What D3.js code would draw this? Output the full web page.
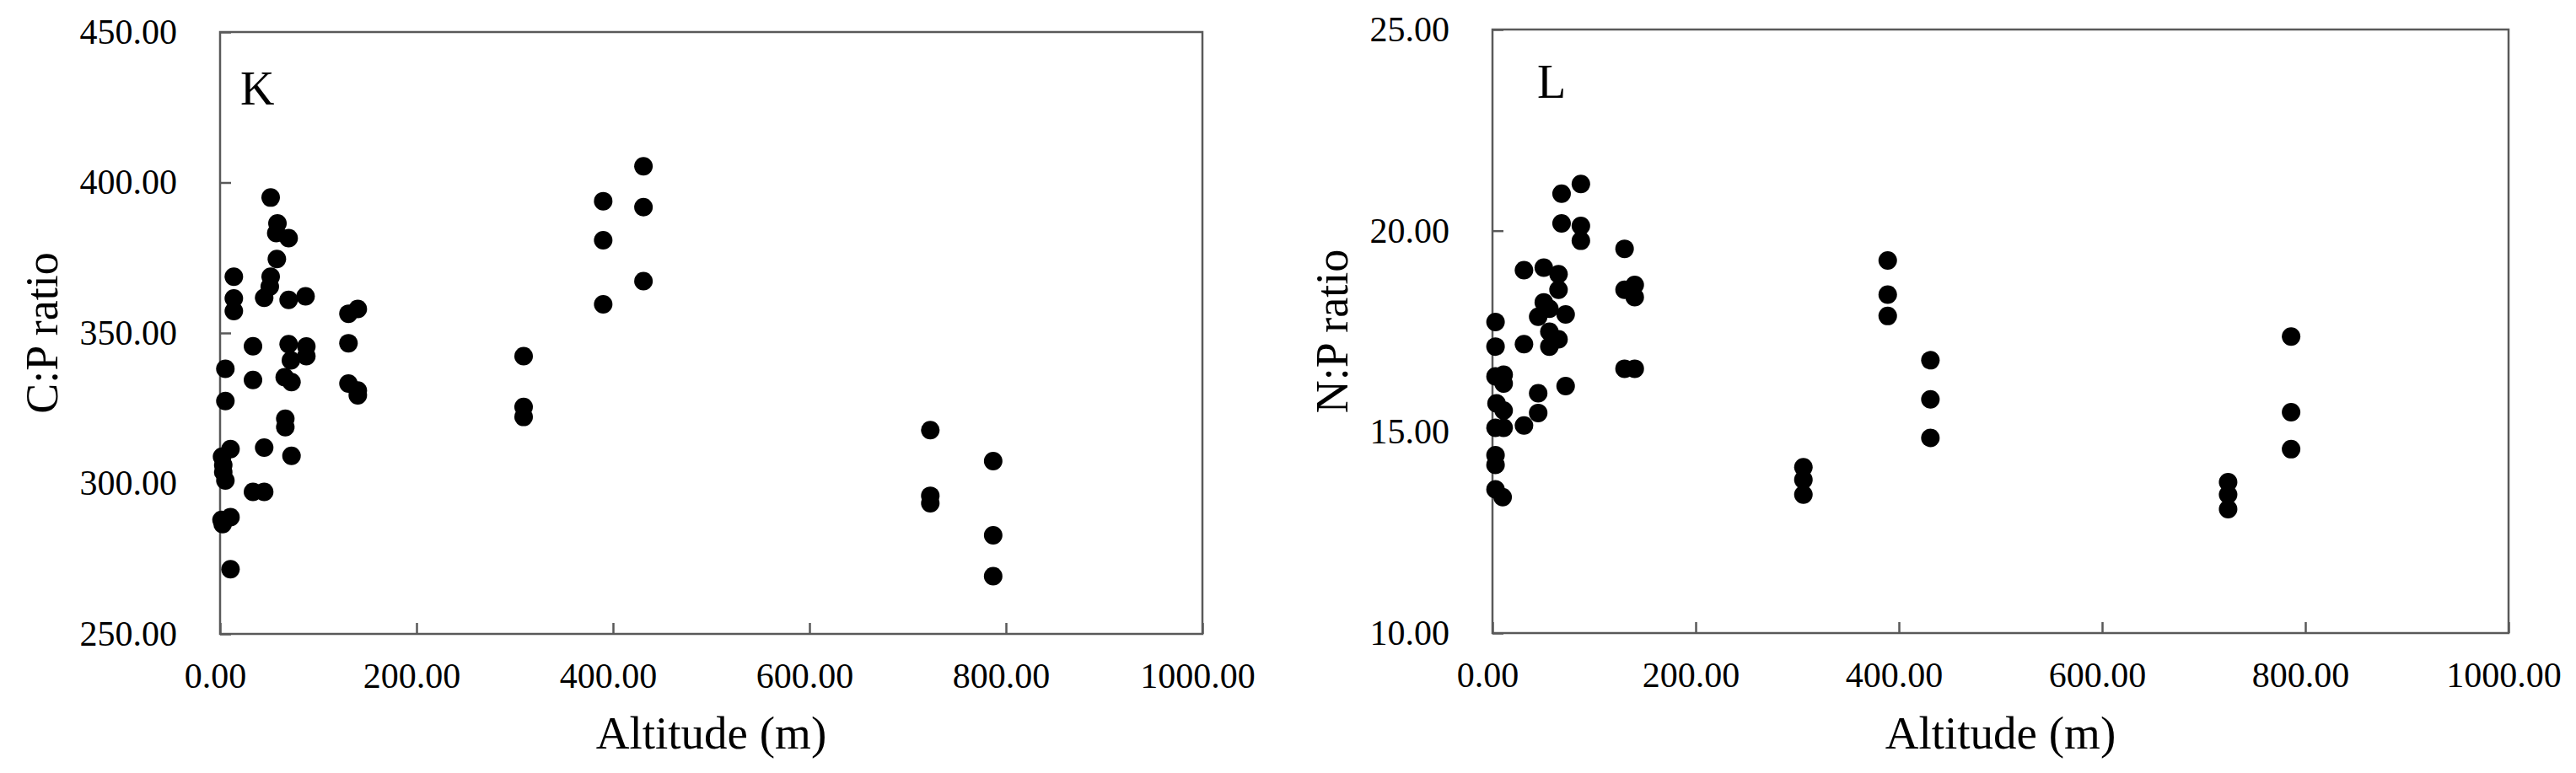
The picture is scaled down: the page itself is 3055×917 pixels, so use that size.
<!DOCTYPE html>
<html>
<head>
<meta charset="utf-8">
<script src="https://cdn.jsdelivr.net/npm/d3@7"></script>
<style>
body { margin: 0; background: #fff; }
svg { display: block; font-family: "Liberation Serif", "Times New Roman", serif; }
</style>
</head>
<body>
<svg width="3055" height="917"></svg>
<script>
// panel K: altitude (m) vs C:P ratio
const altitudeK = [51.5, 58.4, 57.2, 69.8, 57.8, 51.5, 50.6, 44.9, 69.8, 87.0, 14.0, 14.0, 14.0, 130.7, 140.2,
  130.7, 130.7, 140.2, 140.2, 33.5, 69.8, 87.8, 87.8, 72.1, 5.4, 33.5, 65.8, 72.7, 5.4, 66.4, 66.4, 44.9, 72.7,
  10.6, 2.0, 3.2, 3.2, 5.4, 33.5, 44.9, 10.6, 1.5, 2.6, 10.6,
  309, 309, 309, 390, 390, 390, 431, 431, 431, 723, 723, 723, 787, 787, 787];
const cpRatio = [395.0, 386.4, 383.2, 381.5, 374.6, 368.7, 365.4, 361.7, 361.0, 362.2, 368.7, 361.5, 357.3, 356.4, 358.0,
  346.6, 333.2, 330.9, 329.3, 345.6, 346.3, 345.5, 342.3, 340.9, 338.1, 334.4, 335.3, 333.7, 327.4, 321.5, 318.7, 311.9, 309.2,
  311.4, 308.9, 306.1, 303.8, 301.0, 297.2, 297.2, 288.8, 287.9, 286.5, 271.5,
  342.3, 325.4, 322.1, 393.8, 380.8, 359.5, 405.4, 391.8, 367.2, 317.7, 295.9, 293.4, 307.4, 282.8, 269.2];

// panel L: altitude (m) vs N:P ratio
const altitudeL = [87, 68, 68, 87, 87, 130, 31, 50.5, 65, 65, 130, 140, 140, 50.5, 45, 56, 72, 56, 65, 56, 31,
  3, 3, 3, 11, 11, 4, 11, 11, 3, 31, 45, 45, 72, 130, 140, 3, 3, 3, 10,
  306, 306, 306, 389, 389, 389, 431, 431, 431, 724, 724, 724, 786, 786, 786];
const npRatio = [21.16, 20.92, 20.18, 20.12, 19.75, 19.55, 19.02, 19.08, 18.92, 18.53, 18.53, 18.65, 18.35, 18.22, 17.86, 18.06, 17.92, 17.49, 17.30, 17.12, 17.18,
  17.73, 17.12, 16.38, 16.42, 16.20, 15.71, 15.53, 15.10, 15.10, 15.16, 15.96, 15.47, 16.14, 16.57, 16.57, 14.42, 14.18, 13.57, 13.38,
  14.12, 13.81, 13.44, 19.26, 18.41, 17.88, 16.78, 15.81, 14.85, 13.75, 13.44, 13.08, 17.37, 15.49, 14.57];

const altTicks = [0, 200, 400, 600, 800, 1000];
const cpTicks = [250, 300, 350, 400, 450];
const npTicks = [10, 15, 20, 25];

const panels = [
  { letter: 'K', ylabel: 'C:P ratio', xs: altitudeK, ys: cpRatio, yDomain: [250, 450], yTicks: cpTicks,
    left: 261, top: 38, width: 1165, height: 714, titleX: 68, letterAt: [24, 86] },
  { letter: 'L', ylabel: 'N:P ratio', xs: altitudeL, ys: npRatio, yDomain: [10, 25], yTicks: npTicks,
    left: 1770, top: 35, width: 1205, height: 716, titleX: 1598, letterAt: [53, 81] }
];

const svg = d3.select('svg');
const frameColor = '#595959';
const fmt = d3.format('.2f');

panels.forEach(p => {
  const g = svg.append('g').attr('transform', `translate(${p.left},${p.top})`);

  const x = d3.scaleLinear().domain([0, 1000]).range([0, p.width]);
  const y = d3.scaleLinear().domain(p.yDomain).range([p.height, 0]);

  // ticks point inward, like the Excel original
  const x_ax = d3.axisBottom(x).tickValues(altTicks).tickFormat(fmt).tickSize(-13).tickPadding(34);
  const y_ax = d3.axisLeft(y).tickValues(p.yTicks).tickFormat(fmt).tickSize(-13).tickPadding(51);

  const h_x = g.append('g').attr('transform', `translate(0,${p.height})`).call(x_ax);
  const h_y = g.append('g').call(y_ax);

  [h_x, h_y].forEach(ax => {
    ax.select('.domain').remove();
    ax.selectAll('line').attr('stroke', frameColor).attr('stroke-width', 2.5);
    ax.selectAll('text').attr('fill', '#000').style('font-size', '42px')
      .style('font-family', '"Liberation Serif", "Times New Roman", serif');
  });
  h_x.selectAll('text').attr('dx', -6);

  g.append('rect')
    .attr('width', p.width).attr('height', p.height)
    .attr('fill', 'none').attr('stroke', frameColor).attr('stroke-width', 2.5);

  g.append('g').selectAll('circle')
    .data(p.xs.map((d, i) => [d, p.ys[i]]))
    .join('circle')
    .attr('cx', d => x(d[0]))
    .attr('cy', d => y(d[1]))
    .attr('r', 11)
    .attr('fill', '#000');

  g.append('text')
    .attr('x', p.letterAt[0]).attr('y', p.letterAt[1])
    .style('font-size', '56px')
    .text(p.letter);

  g.append('text')
    .attr('x', p.width / 2).attr('y', 888 - p.top)
    .attr('text-anchor', 'middle')
    .style('font-size', '55px')
    .text('Altitude (m)');

  svg.append('text')
    .attr('transform', `translate(${p.titleX},${p.top + p.height / 2}) rotate(-90)`)
    .attr('text-anchor', 'middle')
    .style('font-size', '54px')
    .text(p.ylabel);
});
</script>
</body>
</html>
